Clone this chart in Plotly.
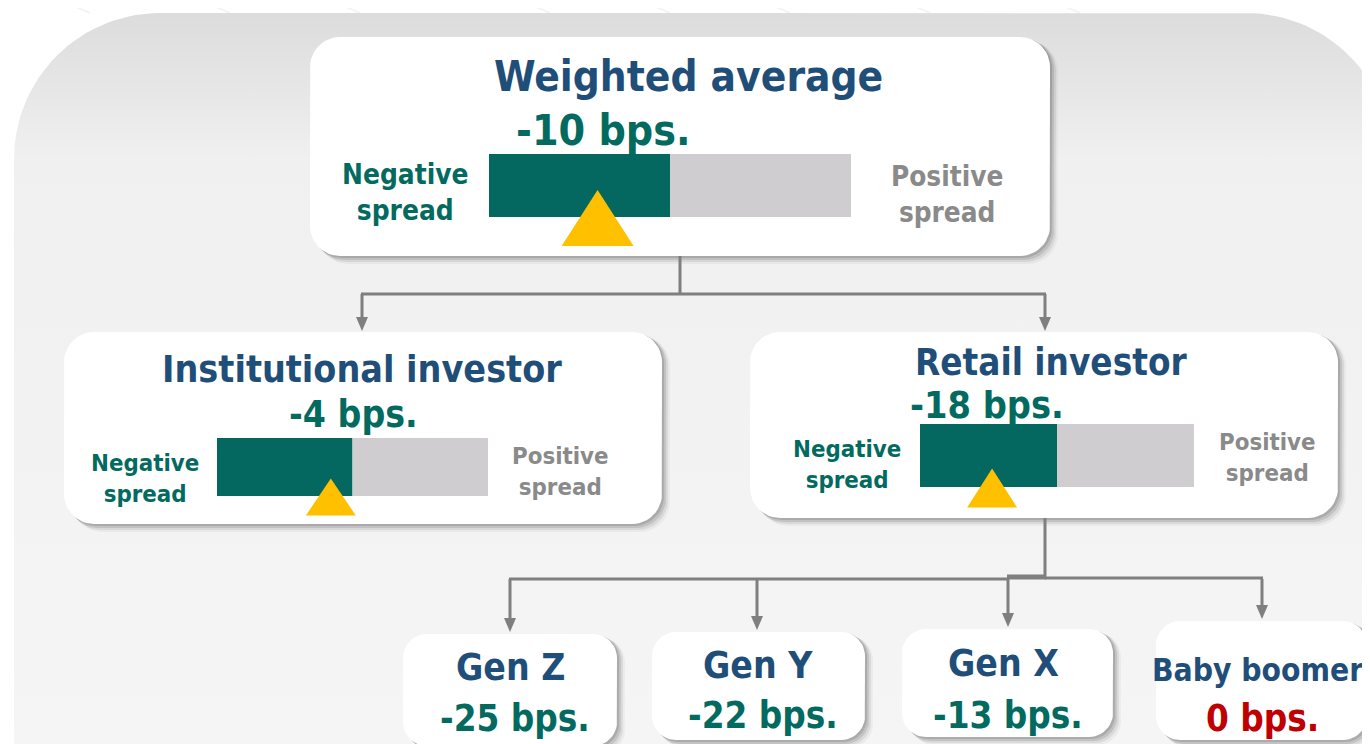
import plotly.graph_objects as go
import math

# ---------------- data ----------------
segments = ["Weighted average", "Institutional investor", "Retail investor"]
segment_bps = [-10, -4, -18]
gauge_extent = [25, 25, 38]          # bps represented by each half of a gauge bar
generations = ["Gen Z", "Gen Y", "Gen X", "Baby boomer"]
generation_bps = [-25, -22, -13, 0]
neg_label = "Negative<br>spread"
pos_label = "Positive<br>spread"

# ---------------- styles ----------------
FONT = "DejaVu Sans Condensed, Liberation Sans Narrow, DejaVu Sans, sans-serif"
NAVY = "#1f4e79"
TEAL = "#036a5f"
GREY_TXT = "#8a8a8a"
BAR_DARK = "#046861"
BAR_LIGHT = "#cfcdcf"
GOLD = "#ffc000"
RED = "#c00000"
LINE = "#7f7f7f"

W, H = 1370, 744
OFF = 8   # page body margin compensation
fig = go.Figure()
shapes, annotations = [], []


def rr_points(x0, y0, x1, y1, r, n=12):
    xs, ys = [], []
    corners = [(x1 - r, y0 + r, 90, 0), (x1 - r, y1 - r, 0, -90),
               (x0 + r, y1 - r, -90, -180), (x0 + r, y0 + r, 180, 90)]
    for cx, cy, a0, a1 in corners:
        for i in range(n + 1):
            a = math.radians(a0 + (a1 - a0) * i / n)
            xs.append(cx + r * math.cos(a)); ys.append(cy - r * math.sin(a))
    xs.append(xs[0]); ys.append(ys[0])
    return xs, ys


def poly(xs, ys, color):
    fig.add_trace(go.Scatter(x=xs, y=ys, mode="lines", fill="toself", fillcolor=color,
                             line=dict(width=0, color=color), hoverinfo="skip", showlegend=False))


def card(x0, y0, x1, y1, r=30):
    for off, op in [(8, 0.04), (6, 0.07), (4, 0.10), (2, 0.12)]:
        poly(*rr_points(x0 + off, y0 + off * 0.5, x1 + off, y1 + off, r), f"rgba(0,0,0,{op})")
    poly(*rr_points(x0, y0, x1, y1, r), "white")


def text(x, y, s, size, color, xanchor="center"):
    annotations.append(dict(x=x, y=y, text=f"<b>{s}</b>", showarrow=False, xanchor=xanchor,
                            yanchor="middle", font=dict(family=FONT, size=size, color=color)))


def vline(x, y0, y1, w=3):
    shapes.append(dict(type="line", x0=x, x1=x, y0=y0, y1=y1, line=dict(color=LINE, width=w)))


def hline(x0, x1, y, w=3):
    shapes.append(dict(type="line", x0=x0, x1=x1, y0=y, y1=y, line=dict(color=LINE, width=w)))


def arrow(x, y_from, y_tip):
    vline(x, y_from, y_tip - 10)
    shapes.append(dict(type="path", path=f"M{x-6},{y_tip-14} L{x+6},{y_tip-14} L{x},{y_tip} Z",
                       fillcolor=LINE, line=dict(width=0)))


# ---------------- background panel with vertical gradient ----------------
px0, py0, px1, py1, pr = 14, 13, 1392, 800, 146
pts_x, pts_y = [], []
def arc(cx, cy, a0, a1, n=30):
    for i in range(n + 1):
        a = math.radians(a0 + (a1 - a0) * i / n)
        pts_x.append(cx + pr * math.cos(a)); pts_y.append(cy - pr * math.sin(a))
arc(px0 + pr, py0 + pr, 180, 90)
arc(px1 - pr, py0 + pr, 90, 0)
pts_x += [px1, px0]; pts_y += [py1, py1]
pts_x.append(pts_x[0]); pts_y.append(pts_y[0])
fig.add_trace(go.Scatter(x=pts_x, y=pts_y, mode="lines", fill="toself", line=dict(width=0),
                         fillgradient=dict(type="vertical",
                                           colorscale=[[0, "#dcdcdc"], [0.2, "#f0f0f0"], [1, "#f5f5f5"]],
                                           start=py0, stop=744),
                         hoverinfo="skip", showlegend=False))

# faint diagonal lines on the page background
for x in [60, 200, 330, 520, 640, 760, 900, 1050]:
    shapes.append(dict(type="line", x0=x, x1=x + 30, y0=0, y1=13, line=dict(color="#f4f4f4", width=2), layer="below"))

# ---------------- segment cards with gauges ----------------
cards = [
    dict(box=(310, 37, 1050, 256), title=(688, 76, 42), val=(603, 130, 42.5),
         bar=(489, 154, 851, 217), tri=(72, 56), neg=(405, 192, 27.8), pos=(947, 194, 27.7)),
    dict(box=(64, 332, 662, 524), title=(362, 369, 37.3), val=(353, 414, 37),
         bar=(217, 438, 488, 496), tri=(50, 37), neg=(145, 478, 23.8), pos=(560, 471, 23.8)),
    dict(box=(750, 332, 1338, 518), title=(1051, 362, 36.5), val=(987, 405, 37.5),
         bar=(920, 424, 1194, 487), tri=(50, 39), neg=(847, 464, 23.8), pos=(1267, 457, 23.8)),
]
for c, name, v, ext in zip(cards, segments, segment_bps, gauge_extent):
    card(*c["box"])
    text(c["title"][0], c["title"][1], name, c["title"][2], NAVY)
    text(c["val"][0], c["val"][1], f"{v} bps.", c["val"][2], TEAL if v < 0 else RED)
    bx0, by0, bx1, by1 = c["bar"]
    mid = (bx0 + bx1) / 2
    # gauge halves: negative (dark) and positive (light)
    poly([bx0, mid, mid, bx0, bx0], [by0, by0, by1, by1, by0], BAR_DARK)
    poly([mid, bx1, bx1, mid, mid], [by0, by0, by1, by1, by0], BAR_LIGHT)
    # marker position from value
    half = (bx1 - bx0) / 2
    mx = mid + v / ext * half
    tw, th = c["tri"]
    apex = by1 - th * 0.5 + 1
    base = apex + th
    poly([mx - tw / 2, mx + tw / 2, mx, mx - tw / 2], [base, base, apex, base], GOLD)
    text(c["neg"][0], c["neg"][1], neg_label, c["neg"][2], TEAL)
    text(c["pos"][0], c["pos"][1], pos_label, c["pos"][2], GREY_TXT)

# ---------------- connectors ----------------
vline(680, 256, 294)
hline(361, 1046, 294)
arrow(362, 294, 331)
arrow(1045, 294, 331)

vline(1045, 518, 578)
hline(509, 1008, 579)
hline(1045, 1263, 578)
hline(1007, 1046, 577, w=5)
gen_boxes = [(403, 634, 617, 746), (652, 632, 865, 740), (902, 629, 1113, 737), (1156, 621, 1367, 740)]
gen_text = [(515, 667, 718), (763, 665, 715), (1008, 663, 715), (1262, 670, 718)]
arrow_x = [510, 757, 1008, 1262]
for (x0, y0, x1, y1), ax in zip(gen_boxes, arrow_x):
    arrow(ax, 579, y0 - 2)

# ---------------- generation cards ----------------
gen_title_size = [37, 37, 37, 31.5]
for (x0, y0, x1, y1), (tx, ty, vy), name, v, ts in zip(gen_boxes, gen_text, generations,
                                                      generation_bps, gen_title_size):
    card(x0, y0, x1, y1, r=24)
    text(tx - 5, ty, name, ts, NAVY)
    text(tx, vy, f"{v} bps.", 36.5, TEAL if v < 0 else RED)

fig.update_layout(
    width=W - OFF, height=H - OFF, margin=dict(l=0, r=0, t=0, b=0),
    paper_bgcolor="white", plot_bgcolor="white",
    xaxis=dict(range=[OFF, W], visible=False, fixedrange=True),
    yaxis=dict(range=[H, OFF], visible=False, fixedrange=True),
    shapes=shapes, annotations=annotations, showlegend=False,
)
fig.write_html("out.html")
